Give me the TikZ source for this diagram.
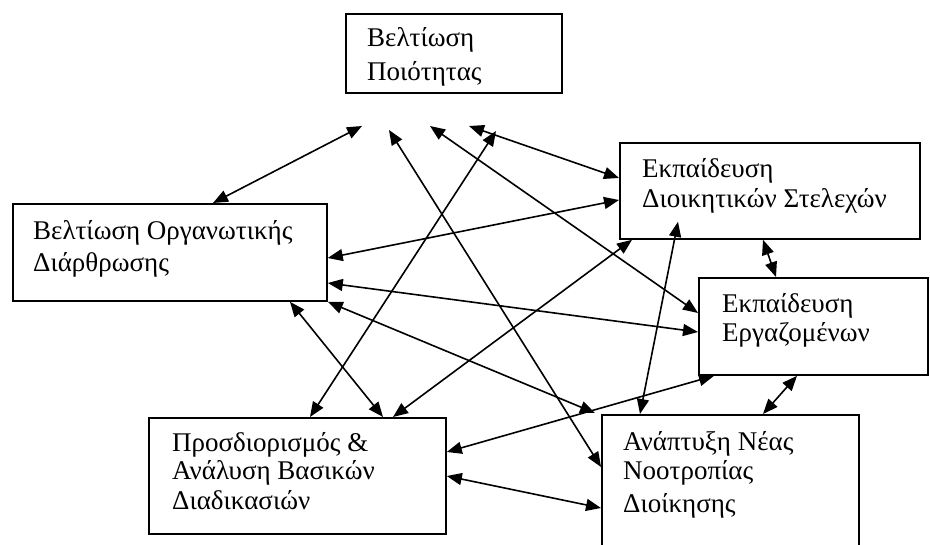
\documentclass[tikz,border=0pt]{standalone}
\usepackage{fontspec}
\setmainfont{Liberation Serif}
\usetikzlibrary{arrows.meta,calc}

\tikzset{
  box/.style={draw, line width=1.8pt, rectangle, inner sep=0pt, anchor=north west},
  txt/.style={anchor=base west, inner sep=0pt, font=\fontsize{27}{31}\selectfont},
  link/.style={line width=1.6pt, {Triangle[length=15pt,width=12pt]}-{Triangle[length=15pt,width=12pt]}}
}

\begin{document}
\begin{tikzpicture}[x=1pt,y=-1pt]
\useasboundingbox (0,0) rectangle (930,545);

% boxes
\node[box, minimum width=216pt, minimum height=79pt]  (A) at (345,13)  {};
\node[box, minimum width=314pt, minimum height=97pt]  (B) at (12,203)  {};
\node[box, minimum width=300pt, minimum height=96pt]  (C) at (619,142) {};
\node[box, minimum width=229pt, minimum height=97pt]  (D) at (698,277) {};
\node[box, minimum width=297pt, minimum height=116pt] (E) at (148,417) {};
\node[box, minimum width=257pt, minimum height=150pt] (F) at (601,414) {};

% box texts
\node[txt] (A1) at (367,47)  {Βελτίωση};
\node[txt] (A2) at (367,81)  {Ποιότητας};
\node[txt] (B1) at (33,240)  {Βελτίωση Οργανωτικής};
\node[txt] (B2) at (33,272)  {Διάρθρωσης};
\node[txt] (C1) at (642,178) {Εκπαίδευση};
\node[txt] (C2) at (642,208) {Διοικητικών Στελεχών};
\node[txt] (D1) at (722,313) {Εκπαίδευση};
\node[txt] (D2) at (722,342) {Εργαζομένων};
\node[txt] (E1) at (172,452) {Προσδιορισμός \&};
\node[txt] (E2) at (172,480) {Ανάλυση Βασικών};
\node[txt] (E3) at (172,510) {Διαδικασιών};
\node[txt] (F1) at (623,450) {Ανάπτυξη Νέας};
\node[txt] (F2) at (623,480) {Νοοτροπίας};
\node[txt] (F3) at (623,512) {Διοίκησης};

% free ends of the links pointing at the top box
\coordinate (a1) at (362,126);
\coordinate (a2) at (389,130);
\coordinate (a3) at (430,126);
\coordinate (a4) at (469,126);
\coordinate (a5) at (496,131);

% links
\draw[link] (a1) -- ($(B.north west)+(201,0)$);
\draw[link] (a2) -- ($(F.north west)+(0,53)$);
\draw[link] (a3) -- ($(D.north west)+(0,36)$);
\draw[link] (a4) -- ($(C.north west)+(0,36)$);
\draw[link] (a5) -- ($(E.north west)+(162,0)$);
\draw[link] ($(B.north east)+(0,55)$) -- ($(C.north west)+(0,58)$);
\draw[link] ($(B.north east)+(0,80)$) -- ($(D.north west)+(0,55)$);
\draw[link] (B.south east) -- ($(F.north west)+(-6,-1)$);
\draw[link] ($(B.south west)+(278,0)$) -- ($(E.north west)+(235,0)$);
\draw[link] ($(E.north west)+(245,0)$) -- ($(C.south west)+(13,0)$);
\draw[link] ($(F.north west)+(39,0)$) -- ($(C.south west)+(59,-18)$);
\draw[link] ($(C.south west)+(144,0)$) -- ($(D.north west)+(78,0)$);
\draw[link] ($(E.north east)+(0,35)$) -- ($(D.south west)+(16,0)$);
\draw[link] ($(E.north east)+(0,59)$) -- ($(F.north west)+(0,94)$);
\draw[link] ($(F.north west)+(162,0)$) -- ($(D.south west)+(99,0)$);
\end{tikzpicture}
\end{document}
